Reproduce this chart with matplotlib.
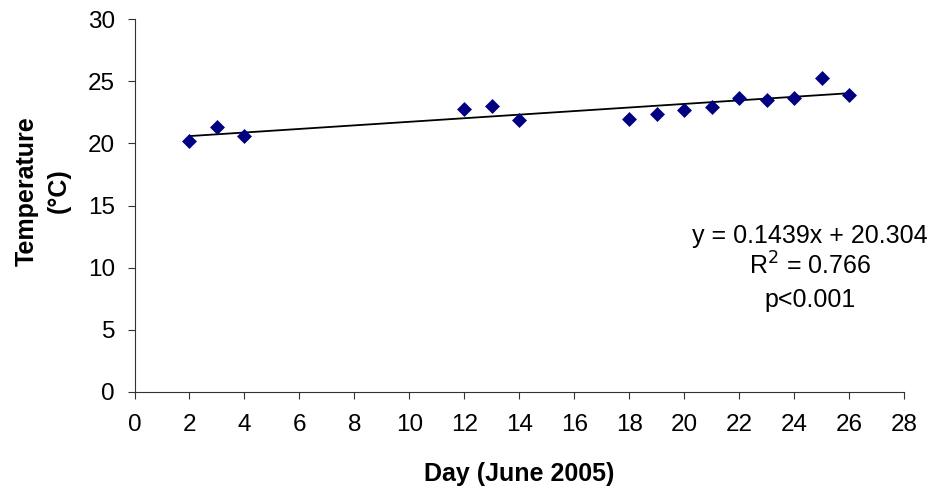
import numpy as np
import matplotlib
matplotlib.use("Agg")
import matplotlib.pyplot as plt

plt.rcParams['font.family'] = ['Liberation Sans', 'DejaVu Sans']

days = [2, 3, 4, 12, 13, 14, 18, 19, 20, 21, 22, 23, 24, 25, 26]
temps = [20.2, 21.3, 20.6, 22.75, 23.05, 21.9, 21.95, 22.4, 22.7, 22.9, 23.7, 23.5, 23.7, 25.3, 23.9]
slope = 0.1439
intercept = 20.304
eq_lines = ["y = 0.1439x + 20.304", "R$^2$ = 0.766", "p<0.001"]

W, H = 942, 496
fig = plt.figure(figsize=(W / 100, H / 100), dpi=100)
left, right, top, bottom = 134.5, 904, 19.3, 391.7
ax = fig.add_axes([left / W, 1 - bottom / H, (right - left) / W, (bottom - top) / H])

ax.scatter(days, temps, marker='D', s=58, color='#000080', zorder=3, linewidths=0)
xl = np.array([min(days), max(days)])
ax.plot(xl, slope * xl + intercept, color='black', lw=1.3, zorder=2)

ax.set_xlim(0, 28)
ax.set_ylim(0, 30)
ax.set_xticks(np.arange(0, 29, 2))
ax.set_yticks(np.arange(0, 31, 5))
ax.tick_params(labelsize=17.5, length=5, width=0.8, color='#333333')
ax.tick_params(axis='x', pad=11)
ax.tick_params(axis='y', pad=9)
for s in ['top', 'right']:
    ax.spines[s].set_visible(False)
for s in ['left', 'bottom']:
    ax.spines[s].set_color('#333333')
    ax.spines[s].set_linewidth(0.8)

ax.set_xlabel('Day (June 2005)', fontsize=18, fontweight='bold', va='center')
ax.xaxis.set_label_coords(0.5, (bottom - 474) / (bottom - top))
ax.set_ylabel('Temperature\n(°C)', fontsize=18, fontweight='bold', va='center', linespacing=1.4)
ax.yaxis.set_label_coords((43 - left) / (right - left), (bottom - 191) / (bottom - top))

for txt, yb in zip(eq_lines, [243, 275, 307]):
    fig.text(810 / W, 1 - yb / H, txt, ha='center', va='baseline', fontsize=18)

fig.savefig('out.png', dpi=100)
